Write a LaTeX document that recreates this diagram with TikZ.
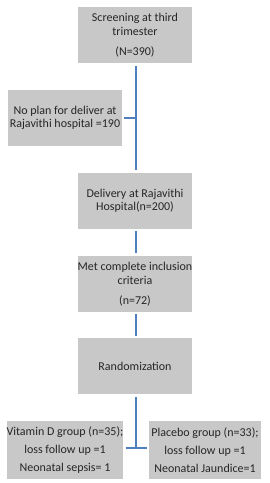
\documentclass[tikz,border=0pt]{standalone}
\usepackage{fontspec}
\setmainfont{Carlito}
\definecolor{boxgrey}{HTML}{C8C8C8}
\definecolor{txtgrey}{HTML}{262626}
\definecolor{lineblue}{HTML}{4F7FBC}
\begin{document}
\begin{tikzpicture}[x=1pt,y=-1pt,
  flowbox/.style={fill=boxgrey, draw=none, text=txtgrey, inner sep=0pt,
    minimum width=114pt, minimum height=56pt, align=center,
    font=\fontsize{12}{14}\selectfont},
  link/.style={draw=lineblue, line width=1.6pt}]
\useasboundingbox (0,0) rectangle (269,483);
\node[flowbox] (b1) at (135,35) {Screening at third\\trimester\\[6pt](N=390)};
\node[flowbox, font=\fontsize{12}{13}\selectfont] (b2) at (65,118) {No plan for deliver at\\Rajavithi hospital =190};
\node[flowbox, font=\fontsize{12}{13}\selectfont] (b3) at (135,201) {Delivery at Rajavithi\\Hospital(n=200)};
\node[flowbox] (b4) at (135,284) {Met complete inclusion\\criteria\\[6pt](n=72)};
\node[flowbox] (b5) at (135,366) {Randomization};
\node[flowbox, minimum height=58pt, font=\fontsize{12}{18}\selectfont] (b6) at (65,450) {Vitamin D group (n=35);\\loss follow up =1\\Neonatal sepsis= 1};
\node[flowbox, minimum width=112pt, minimum height=58pt, font=\fontsize{12}{18}\selectfont] (b7) at (205,450) {Placebo group (n=33);\\loss follow up =1\\Neonatal Jaundice=1};
\coordinate (j1) at (136,118);
\coordinate (j2) at (136,448);
\draw[link] ([xshift=1pt,yshift=-3pt]b1.south) -- ([xshift=1pt,yshift=3pt]b3.north);
\draw[link, shorten <=2pt] (b2.east) -- (j1);
\draw[link] ([xshift=1pt,yshift=-2pt]b3.south) -- ([xshift=1pt,yshift=3pt]b4.north);
\draw[link] ([xshift=1pt,yshift=-2pt]b4.south) -- ([xshift=1pt,yshift=2pt]b5.north);
\draw[link] ([xshift=1pt,yshift=-3pt]b5.south) -- (j2);
\draw[link, shorten <=2pt, shorten >=2pt] (b6.east |- j2) -- (b7.west |- j2);
\end{tikzpicture}
\end{document}
